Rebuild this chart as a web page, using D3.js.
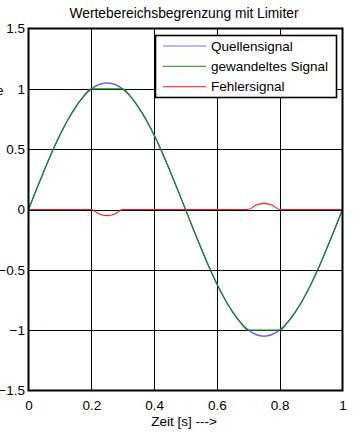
<!DOCTYPE html>
<html><head><meta charset="utf-8">
<script src="https://cdn.jsdelivr.net/npm/d3@7"></script>
<style>
html,body{margin:0;padding:0;background:#fff;overflow:hidden}
text{font-family:"Liberation Sans",Arial,sans-serif;fill:#000}
</style></head><body>
<svg id="c" width="359" height="434"></svg>
<script>
const time = [0,0.025,0.05,0.075,0.1,0.125,0.15,0.175,0.2,0.225,0.25,0.275,0.3,0.325,0.35,0.375,0.4,0.425,0.45,0.475,0.5,
  0.525,0.55,0.575,0.6,0.625,0.65,0.675,0.7,0.725,0.75,0.775,0.8,0.825,0.85,0.875,0.9,0.925,0.95,0.975,1];
const quellensignal = [0,0.164,0.324,0.477,0.617,0.742,0.849,0.936,0.999,1.037,1.05,1.037,0.999,0.936,0.849,0.742,0.617,0.477,0.324,0.164,0,
  -0.164,-0.324,-0.477,-0.617,-0.742,-0.849,-0.936,-0.999,-1.037,-1.05,-1.037,-0.999,-0.936,-0.849,-0.742,-0.617,-0.477,-0.324,-0.164,0];
const gewandelt = [0,0.164,0.324,0.477,0.617,0.742,0.849,0.936,1,1,1,1,1,0.936,0.849,0.742,0.617,0.477,0.324,0.164,0,
  -0.164,-0.324,-0.477,-0.617,-0.742,-0.849,-0.936,-1,-1,-1,-1,-1,-0.936,-0.849,-0.742,-0.617,-0.477,-0.324,-0.164,0];
const fehler = [0,0,0,0,0,0,0,0,0,-0.037,-0.05,-0.037,0,0,0,0,0,0,0,0,0,
  0,0,0,0,0,0,0,0,0.037,0.05,0.037,0,0,0,0,0,0,0,0,0];
const xTicks = [0,0.2,0.4,0.6,0.8,1];
const yTicks = [-1.5,-1,-0.5,0,0.5,1,1.5];
const seriesNames = ["Quellensignal","gewandeltes Signal","Fehlersignal"];
const seriesColors = ["#4a4aff","#138a13","#ff1a1a"];
const titleText = "Wertebereichsbegrenzung mit Limiter";
const xLabel = "Zeit [s] --->";

const L=28.5, R=342.5, T=28.5, B=390.5;
const svg = d3.select("#c");
const x = d3.scaleLinear().domain([0,1]).range([L,R]);
const y = d3.scaleLinear().domain([-1.5,1.5]).range([B,T]);
const fs = 13.5;

// grid
const g = svg.append("g");
g.selectAll("line.gx").data(xTicks.slice(1,-1)).join("line")
  .attr("x1",d=>Math.round(x(d))+0.5).attr("x2",d=>Math.round(x(d))+0.5)
  .attr("y1",T).attr("y2",B).attr("stroke","#000").attr("stroke-width",1);
g.selectAll("line.gy").data(yTicks.slice(1,-1)).join("line")
  .attr("y1",d=>Math.round(y(d))+0.5).attr("y2",d=>Math.round(y(d))+0.5)
  .attr("x1",L).attr("x2",R).attr("stroke","#000").attr("stroke-width",1);

// axes labels
const xa = d3.axisBottom(x).tickValues(xTicks).tickFormat(d3.format("")).tickSize(0).tickPadding(10);
const xg = svg.append("g").attr("transform",`translate(0,${B})`).call(xa);
xg.select(".domain").remove();
xg.selectAll("text").style("font-size",fs+"px").style("font-family","Liberation Sans, Arial");
const ya = d3.axisLeft(y).tickValues(yTicks).tickFormat(d3.format("")).tickSize(0).tickPadding(3.5);
const yg = svg.append("g").attr("transform",`translate(${L},0)`).call(ya);
yg.select(".domain").remove();
yg.selectAll("text").style("font-size",fs+"px").style("font-family","Liberation Sans, Arial");

// lines
const line = d3.line().curve(d3.curveMonotoneX);
const sets = [quellensignal,gewandelt,fehler];
sets.forEach((vals,i)=>{
  svg.append("path").datum(time.map((t,k)=>[x(t),y(vals[k])]))
    .attr("d",line).attr("fill","none").attr("stroke",seriesColors[i]).attr("stroke-width",1.2);
});

// frame
svg.append("rect").attr("x",L).attr("y",T).attr("width",R-L).attr("height",B-T)
  .attr("fill","none").attr("stroke","#000").attr("stroke-width",2);

// legend
const lg = svg.append("g");
lg.append("rect").attr("x",155.5).attr("y",35.5).attr("width",181).attr("height",62)
  .attr("fill","#fff").attr("stroke","#000").attr("stroke-width",1.6);
seriesNames.forEach((n,i)=>{
  const yy = 46 + i*20.3;
  lg.append("line").attr("x1",163).attr("x2",206).attr("y1",yy).attr("y2",yy)
    .attr("stroke",seriesColors[i]).attr("stroke-width",1.2).attr("opacity",0.8);
  lg.append("text").attr("x",211).attr("y",yy).attr("dy","0.35em").style("font-size",fs+"px").text(n);
});

// title and labels
svg.append("text").attr("x",184).attr("y",18).attr("text-anchor","middle").style("font-size","13.8px").text(titleText);
svg.append("text").attr("x",184).attr("y",426).attr("text-anchor","middle").style("font-size",fs+"px").text(xLabel);
svg.append("text").attr("x",-4).attr("y",95).style("font-size",fs+"px").attr("fill","#223").text("e");
</script></body></html>
